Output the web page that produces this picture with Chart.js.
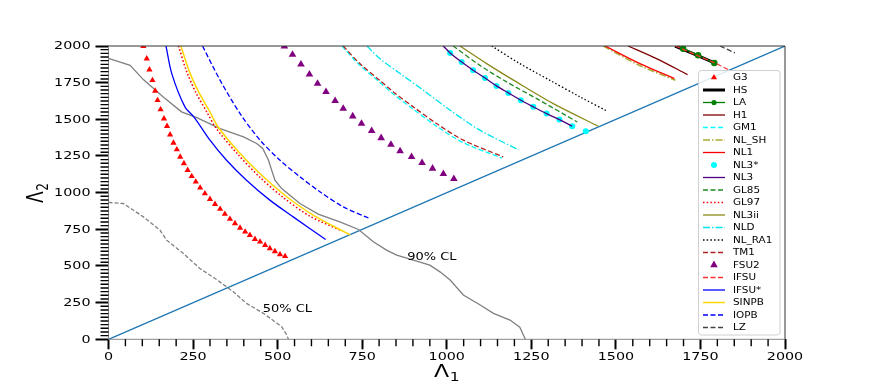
<!DOCTYPE html>
<html>
<head>
<meta charset="utf-8">
<script src="https://cdn.jsdelivr.net/npm/chart.js@4"></script>
<style>
  html, body { margin: 0; padding: 0; background: #fff; }
</style>
</head>
<body>
<canvas id="chart" width="872" height="381"></canvas>
<script>
// Tick labels
const xTicks = [0, 250, 500, 750, 1000, 1250, 1500, 1750, 2000];
const yTicks = [0, 250, 500, 750, 1000, 1250, 1500, 1750, 2000];

// Curves, [Lambda1, Lambda2]
const diagonal = [[0, 0], [2000, 2000]];
const cl90 = [[0,1916],[64,1868],[103,1771],[162,1653],[216,1551],[261,1512],[330,1437],[399,1380],[438,1335],[456,1301],[473,1221],[492,1085],[512,1028],[566,926],[620,854],[684,801],[739,749],[783,665],[822,608],[852,574],[901,540],[950,506],[980,460],[1010,404],[1049,302],[1099,234],[1138,177],[1187,131],[1216,82],[1231,7],[1233,0]];
const cl50 = [[0,933],[44,926],[103,835],[152,745],[172,676],[221,586],[270,483],[315,415],[369,324],[408,245],[458,177],[512,86],[527,29],[532,0]];

const g3 = [[103,1998],[113,1914],[121,1839],[130,1766],[138,1694],[145,1630],[154,1567],[164,1505],[173,1453],[182,1396],[192,1339],[202,1294],[212,1244],[223,1199],[234,1153],[246,1112],[258,1074],[271,1033],[285,994],[300,956],[315,922],[330,888],[344,854],[359,820],[374,790],[389,760],[404,733],[418,710],[433,683],[448,665],[463,642],[477,620],[492,599],[507,579],[522,566]];
const hs = [[1675,2000],[1739,1937],[1793,1884]];
const la = [[1699,1982],[1743,1937],[1791,1884]];
const h1 = [[1536,2000],[1620,1914],[1712,1805]];
const gm1 = [[690,2000],[740,1875],[798,1760],[838,1680],[897,1575],[966,1460],[1045,1345],[1163,1235]];
const nlSh = [[1463,2000],[1566,1872],[1676,1766]];
const nl1 = [[1468,2000],[1571,1880],[1673,1778]];
const nl3Star = [[1010,1953],[1044,1891],[1078,1835],[1113,1782],[1147,1728],[1182,1680],[1219,1630],[1256,1585],[1295,1539],[1333,1498],[1371,1453],[1411,1419]];
const nl3 = [[990,2000],[1010,1953],[1044,1891],[1078,1835],[1113,1782],[1147,1728],[1182,1680],[1219,1630],[1256,1585],[1295,1539],[1333,1498],[1371,1453]];
const gl85 = [[1019,2000],[1098,1868],[1177,1755],[1266,1641],[1386,1482]];
const gl97 = [[207,2000],[232,1820],[260,1675],[292,1545],[318,1440],[382,1262],[450,1100],[518,965],[595,840],[684,745]];
const nl3ii = [[1039,2000],[1118,1880],[1206,1755],[1315,1607],[1448,1453]];
const nld = [[764,2000],[802,1914],[862,1812],[931,1698],[1010,1562],[1098,1426],[1212,1292]];
const nlRa1 = [[1133,2000],[1216,1880],[1305,1766],[1394,1653],[1473,1557]];
const tm1 = [[694,2000],[743,1880],[802,1766],[842,1687],[901,1585],[970,1471],[1049,1358],[1167,1244]];
const fsu2 = [[520,1998],[544,1941],[569,1875],[594,1807],[618,1744],[643,1687],[670,1626],[694,1573],[722,1521],[748,1471],[778,1421],[806,1373],[835,1328],[862,1283],[896,1244],[927,1203],[958,1165],[990,1128],[1021,1094]];
const ifsu = [[1676,2000],[1739,1937],[1793,1884],[1832,1839]];
const ifsuStar = [[170,2000],[187,1812],[226,1585],[254,1512],[300,1358],[349,1221],[408,1085],[477,949],[546,835],[642,680]];
const sinpb = [[214,2000],[240,1820],[268,1680],[300,1550],[325,1444],[389,1267],[458,1108],[527,972],[605,847],[714,712]];
const iopb = [[278,2000],[330,1766],[389,1539],[448,1358],[507,1221],[566,1108],[625,1006],[694,903],[771,825]];
const lz = [[1808,2000],[1852,1953]];

const SX = 1.3; // the picture is stretched sideways, text too
const FONT = "'DejaVu Sans', sans-serif";

function pts(arr) {
  return arr.map(p => ({ x: p[0], y: p[1] }));
}

function line(label, data, color, width, dash, extra) {
  return Object.assign({
    label: label, data: pts(data), showLine: true, borderColor: color, backgroundColor: color,
    borderWidth: width, borderDash: dash, pointRadius: 0, tension: 0.3, inLegend: true
  }, extra || {});
}

function markers(label, data, color, style, radius) {
  return {
    label: label, data: pts(data), showLine: false, borderColor: color, backgroundColor: color,
    borderWidth: 0, pointStyle: style, pointRadius: radius, inLegend: true, marker: true
  };
}

const DASH = [5, 2.5];
const DOT = [1.5, 2.2];
const DASHDOT = [7, 2, 1.5, 2];

let datasets = [
  line('diag', diagonal, '#1f77b4', 1.3, [], { inLegend: false, tension: 0 }),
  line('cl90', cl90, '#808080', 1.3, [], { inLegend: false, tension: 0 }),
  line('cl50', cl50, '#808080', 1.3, [4, 2], { inLegend: false, tension: 0 }),
  markers('G3', g3, '#ff0000', 'triangle', 3.6),
  line('HS', hs, '#000000', 3, []),
  line('LA', la, '#008000', 1.3, [], { pointRadius: 2.6, pointStyle: 'circle', marker: true }),
  line('H1', h1, '#800000', 1.3, []),
  line('GM1', gm1, '#00ffff', 1.3, DASH),
  line('NL_SH', nlSh, '#aaaa33', 1.5, DASHDOT),
  line('NL1', nl1, '#ff0000', 1.3, []),
  markers('NL3*', nl3Star, '#00ffff', 'circle', 3),
  line('NL3', nl3, '#4b0082', 1.3, []),
  line('GL85', gl85, '#228b22', 1.3, DASH),
  line('GL97', gl97, '#ff0000', 1.6, DOT),
  line('NL3ii', nl3ii, '#8a8a1a', 1.3, []),
  line('NLD', nld, '#00e5ee', 1.3, DASHDOT),
  line('NL_RA1', nlRa1, '#000000', 1.3, DOT),
  line('TM1', tm1, '#b22222', 1.3, DASH),
  markers('FSU2', fsu2, '#800080', 'triangle', 4.4),
  line('IFSU', ifsu, '#ff3030', 1.3, DASH),
  line('IFSU*', ifsuStar, '#0000ff', 1.3, []),
  line('SINPB', sinpb, '#ffd700', 1.5, []),
  line('IOPB', iopb, '#0000ff', 1.3, DASH),
  line('LZ', lz, '#444444', 1.3, DASH)
];
// later series on top, like the original
datasets.forEach((ds, i) => { ds.order = -i; ds.clip = 0; });

function stretchedText(ctx, txt, x, y, font, align, base) {
  ctx.save();
  ctx.translate(x, y);
  ctx.scale(SX, 1);
  ctx.font = font;
  ctx.fillStyle = '#000';
  ctx.textAlign = align;
  ctx.textBaseline = base;
  ctx.fillText(txt, 0, 0);
  ctx.restore();
}

function drawMarker(ctx, style, r, x, y, color) {
  ctx.save();
  ctx.fillStyle = color;
  ctx.beginPath();
  if (style === 'triangle') {
    let a = 0;
    ctx.moveTo(x + Math.sin(a) * r, y - Math.cos(a) * r);
    a += 2 * Math.PI / 3;
    ctx.lineTo(x + Math.sin(a) * r, y - Math.cos(a) * r);
    a += 2 * Math.PI / 3;
    ctx.lineTo(x + Math.sin(a) * r, y - Math.cos(a) * r);
    ctx.closePath();
  } else {
    ctx.arc(x, y, r, 0, Math.PI * 2);
  }
  ctx.fill();
  ctx.restore();
}

const decorPlugin = {
  id: 'decor',
  afterDraw(chart) {
    const ctx = chart.ctx;
    const area = chart.chartArea;
    const xs = chart.scales.x, ys = chart.scales.y;

    // frame
    ctx.save();
    ctx.lineWidth = 1;
    ctx.strokeStyle = '#888';
    ctx.beginPath();
    ctx.moveTo(area.left, area.top); ctx.lineTo(area.left, area.bottom); ctx.lineTo(area.right, area.bottom);
    ctx.stroke();
    ctx.strokeStyle = '#333';
    ctx.beginPath();
    ctx.moveTo(area.left, area.top); ctx.lineTo(area.right, area.top); ctx.lineTo(area.right, area.bottom);
    ctx.stroke();

    // minor ticks
    ctx.strokeStyle = '#000';
    ctx.lineWidth = 1.4;
    ctx.beginPath();
    for (let v = 0; v <= 2000; v += 50) {
      if (v % 250 === 0) continue;
      const px = xs.getPixelForValue(v);
      ctx.moveTo(px, area.bottom); ctx.lineTo(px, area.bottom + 7);
    }
    for (let v = 0; v <= 2000; v += 25) {
      if (v % 250 === 0) continue;
      const py = ys.getPixelForValue(v);
      ctx.moveTo(area.left, py); ctx.lineTo(area.left - 8, py);
    }
    ctx.stroke();
    ctx.restore();

    // tick labels
    xs.ticks.forEach(t => {
      stretchedText(ctx, String(t.value), xs.getPixelForValue(t.value), area.bottom + 12, '11px ' + FONT, 'center', 'top');
    });
    ys.ticks.forEach(t => {
      stretchedText(ctx, String(t.value), area.left - 18, ys.getPixelForValue(t.value) + 0.5, '11px ' + FONT, 'right', 'middle');
    });

    // axis titles
    ctx.save();
    ctx.fillStyle = '#000';
    ctx.translate(434, 377);
    ctx.scale(SX, 1);
    ctx.font = '17px ' + FONT;
    ctx.textBaseline = 'alphabetic';
    ctx.fillText('Λ', 0, 0);
    const wL = ctx.measureText('Λ').width;
    ctx.font = '12px ' + FONT;
    ctx.fillText('1', wL + 0.5, 3.5);
    ctx.restore();

    ctx.save();
    ctx.fillStyle = '#000';
    ctx.translate(43, 203);
    ctx.scale(SX, 1);
    ctx.rotate(-Math.PI / 2);
    ctx.font = '17px ' + FONT;
    ctx.textBaseline = 'alphabetic';
    ctx.fillText('Λ', 0, 0);
    const wL2 = ctx.measureText('Λ').width;
    ctx.font = '12px ' + FONT;
    ctx.fillText('2', wL2 + 0.5, 3.5);
    ctx.restore();

    // confidence level labels
    stretchedText(ctx, '90% CL', xs.getPixelForValue(883), ys.getPixelForValue(560), '10px ' + FONT, 'left', 'middle');
    stretchedText(ctx, '50% CL', xs.getPixelForValue(456), ys.getPixelForValue(206), '10px ' + FONT, 'left', 'middle');

    // legend
    const box = { left: 698.5, top: 70.5, right: 780, bottom: 335 };
    ctx.save();
    ctx.fillStyle = 'rgba(255,255,255,0.85)';
    ctx.strokeStyle = '#d0d0d0';
    ctx.lineWidth = 1;
    ctx.beginPath();
    ctx.roundRect(box.left, box.top, box.right - box.left, box.bottom - box.top, 3);
    ctx.fill();
    ctx.stroke();
    ctx.restore();

    const items = chart.data.datasets.filter(ds => ds.inLegend);
    items.forEach((ds, i) => {
      const y = 77.5 + i * 12.5;
      const x0 = 703, x1 = 725, cx = (x0 + x1) / 2;
      if (ds.showLine) {
        ctx.save();
        ctx.strokeStyle = ds.borderColor;
        ctx.lineWidth = ds.borderWidth;
        ctx.setLineDash(ds.borderDash || []);
        ctx.beginPath();
        ctx.moveTo(x0, y); ctx.lineTo(x1, y);
        ctx.stroke();
        ctx.restore();
      }
      if (ds.marker) {
        drawMarker(ctx, ds.pointStyle, ds.pointRadius, cx, y, ds.backgroundColor);
      }
      stretchedText(ctx, ds.label, 733, y + 0.5, '8px ' + FONT, 'left', 'middle');
    });
  }
};

new Chart(document.getElementById('chart'), {
  type: 'scatter',
  data: { datasets: datasets },
  options: {
    responsive: false,
    animation: false,
    devicePixelRatio: 1,
    layout: { padding: { left: 0, right: 87, top: 46, bottom: 0 } },
    plugins: { legend: { display: false }, tooltip: { enabled: false } },
    scales: {
      x: {
        type: 'linear', min: 0, max: 2000,
        afterBuildTicks: s => { s.ticks = xTicks.map(v => ({ value: v })); },
        afterFit: s => { s.height = 41.7; },
        ticks: { display: false },
        grid: { drawOnChartArea: false, drawTicks: true, tickLength: 10, tickWidth: 2, tickColor: '#000' },
        border: { display: false }
      },
      y: {
        type: 'linear', min: 0, max: 2000,
        afterBuildTicks: s => { s.ticks = yTicks.map(v => ({ value: v })); },
        afterFit: s => { s.width = 108.5; },
        ticks: { display: false },
        grid: { drawOnChartArea: false, drawTicks: true, tickLength: 13, tickWidth: 2, tickColor: '#000' },
        border: { display: false }
      }
    }
  },
  plugins: [decorPlugin]
});
</script>
</body>
</html>
